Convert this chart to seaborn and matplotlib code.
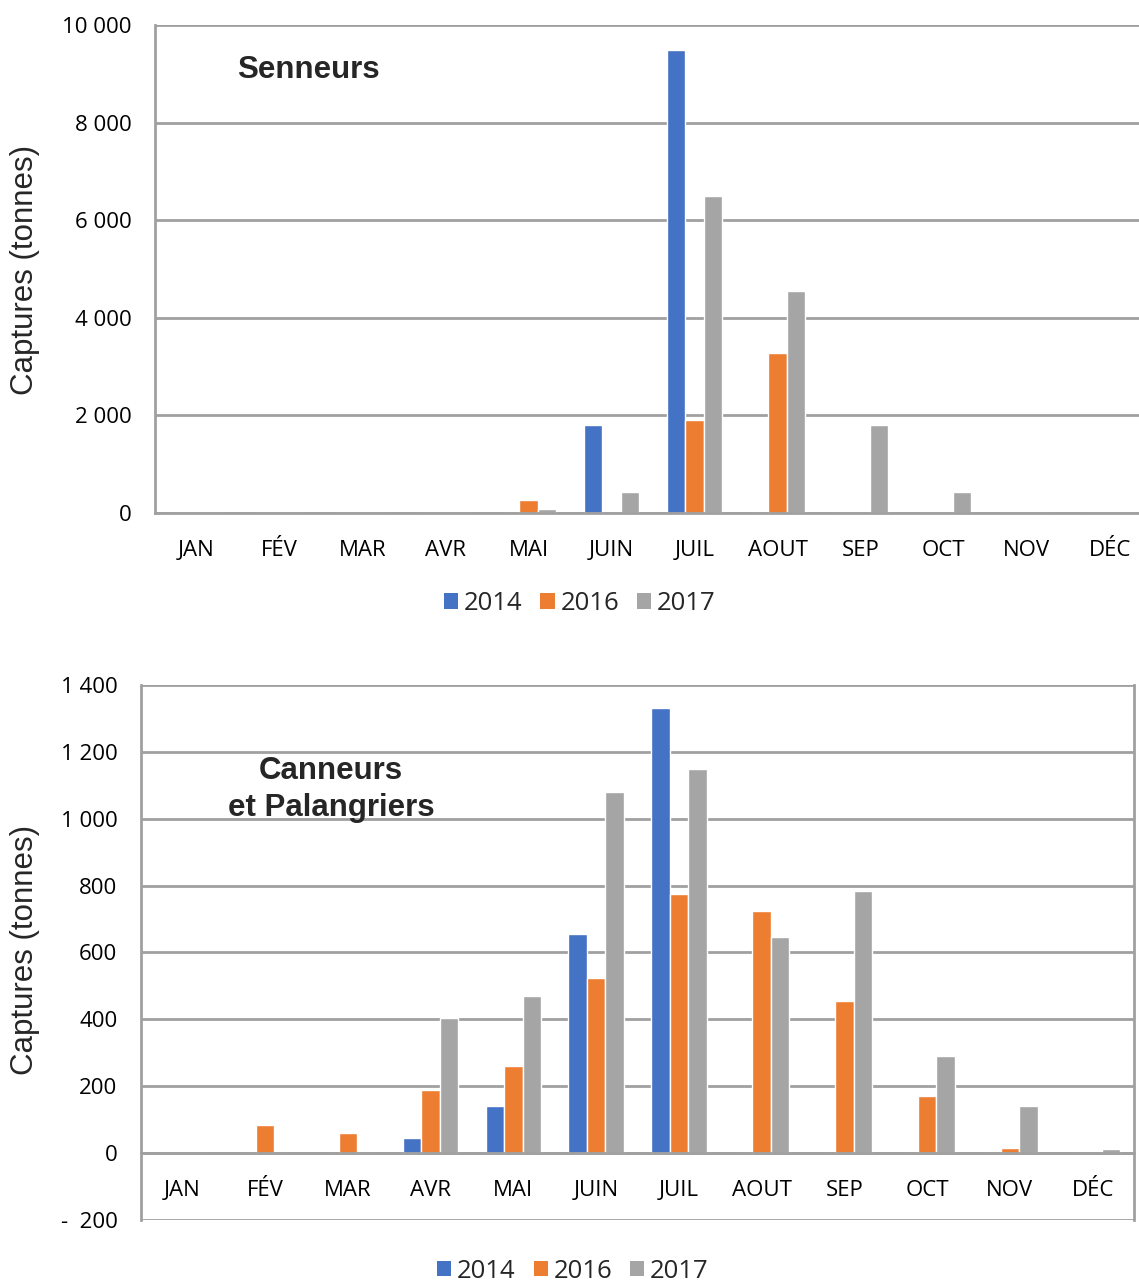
import matplotlib
matplotlib.use("Agg")
import matplotlib.pyplot as plt
import seaborn as sns
import pandas as pd
from matplotlib.patches import Patch

months = ["JAN", "FÉV", "MAR", "AVR", "MAI", "JUIN", "JUIL", "AOUT", "SEP", "OCT", "NOV", "DÉC"]
years = ["2014", "2016", "2017"]

# Senneurs (tonnes)
sen_2014 = [0, 0, 0, 0, 0, 1800, 9480, 0, 0, 0, 0, 0]
sen_2016 = [0, 0, 0, 0, 260, 0, 1900, 3280, 0, 0, 0, 0]
sen_2017 = [0, 0, 0, 0, 90, 430, 6500, 4550, 1800, 430, 0, 0]

# Canneurs et Palangriers (tonnes)
can_2014 = [0, 0, 0, 45, 140, 655, 1330, 0, 0, 0, 0, 0]
can_2016 = [0, 85, 60, 190, 260, 525, 775, 725, 455, 170, 15, 0]
can_2017 = [0, 0, 0, 405, 470, 1080, 1150, 645, 785, 290, 140, 12]

sen_yticks = [0, 2000, 4000, 6000, 8000, 10000]
sen_ylabels = ["0", "2 000", "4 000", "6 000", "8 000", "10 000"]
can_yticks = [-200, 0, 200, 400, 600, 800, 1000, 1200, 1400]
can_ylabels = ["-  200", "0", "200", "400", "600", "800", "1 000", "1 200", "1 400"]

colors = ["#4472C4", "#ED7D31", "#A5A5A5"]
GRAY = "#A0A0A0"
TICKFONT = ["Open Sans", "DejaVu Sans"]

def long_df(a, b, c):
    rows = []
    for yr, vals in zip(years, [a, b, c]):
        for m, v in zip(months, vals):
            rows.append({"mois": m, "annee": yr, "captures": v})
    return pd.DataFrame(rows)

sns.set_style("white")
plt.rcParams["font.family"] = ["Liberation Sans", "DejaVu Sans"]

fig = plt.figure(figsize=(11.39, 12.83), dpi=100)
ax1 = fig.add_axes([0.1361, 0.6002, 0.8745, 0.3804])
ax2 = fig.add_axes([0.1238, 0.0491, 0.8718, 0.4170])

def style(ax, df, yticks, ylabels, ylim, right_spine):
    sns.barplot(data=df, x="mois", y="captures", hue="annee", order=months,
                hue_order=years, palette=colors, width=0.67, gap=0,
                legend=False, ax=ax, saturation=1)
    ax.set_xlim(-0.5, 11.5)
    ax.set_ylim(*ylim)
    ax.set_yticks(yticks)
    ax.set_yticklabels(ylabels, family=TICKFONT)
    ax.set_xlabel("")
    ax.set_ylabel("")
    ax.yaxis.grid(True, color=GRAY, lw=2)
    ax.xaxis.grid(False)
    ax.set_axisbelow(True)
    ax.spines["top"].set_visible(False)
    ax.spines["right"].set_visible(right_spine)
    ax.spines["right"].set_color(GRAY)
    ax.spines["right"].set_linewidth(2)
    ax.spines["left"].set_color(GRAY)
    ax.spines["left"].set_linewidth(2)
    ax.spines["bottom"].set_position(("data", 0))
    ax.spines["bottom"].set_color(GRAY)
    ax.spines["bottom"].set_linewidth(2)
    ax.tick_params(axis="y", which="major", length=5, width=2, color=GRAY,
                   direction="out", labelsize=16, pad=12, labelcolor="black")
    ax.set_xticks(range(12))
    ax.set_xticklabels(months, family=TICKFONT)
    ax.tick_params(axis="x", which="major", length=0, pad=19.5, labelsize=16,
                   labelcolor="black")
    ax.set_xticks([i + 0.5 for i in range(-1, 12)], minor=True)
    ax.tick_params(axis="x", which="minor", length=6, width=2, color=GRAY,
                   direction="out")

style(ax1, long_df(sen_2014, sen_2016, sen_2017), sen_yticks, sen_ylabels,
      (0, 10000), False)
style(ax2, long_df(can_2014, can_2016, can_2017), can_yticks, can_ylabels,
      (-200, 1400), True)

fig.text(0.2704, 0.9455, "Senneurs", ha="center", va="center",
         fontsize=22.5, fontweight="bold")
fig.text(0.2906, 0.3845, "Canneurs\net Palangriers", ha="center", va="center",
         multialignment="center", fontsize=22.5, fontweight="bold", linespacing=1.28)

fig.text(0.022, 0.7896, "Captures (tonnes)", rotation=90, ha="center",
         va="center", fontsize=22.5)
fig.text(0.022, 0.2595, "Captures (tonnes)", rotation=90, ha="center",
         va="center", fontsize=22.5)

handles = [Patch(facecolor=c, edgecolor="none") for c in colors]
for y, x in [(0.5295, 0.509), (0.0092, 0.503)]:
    fig.legend(handles, years, loc="center", bbox_to_anchor=(x, y), ncol=3,
               frameon=False, handlelength=0.55,
               prop={"family": TICKFONT, "size": 18.5},
               handleheight=0.55, handletextpad=0.22, columnspacing=0.7,
               borderaxespad=0, borderpad=0)

fig.savefig("out.png", dpi=100)
